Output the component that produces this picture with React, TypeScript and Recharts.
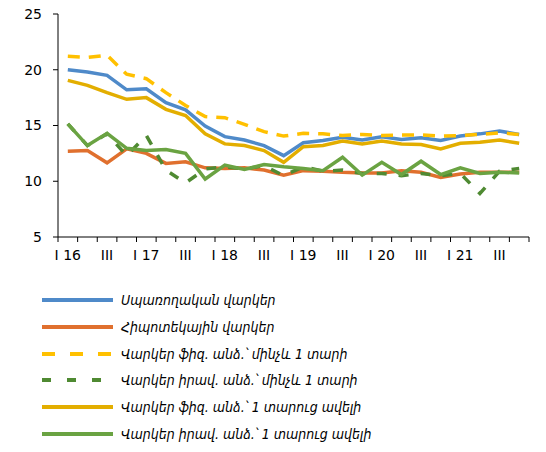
import React from 'react';
import { LineChart, Line, XAxis, YAxis } from 'recharts';

// quarters 2016 Q1 - 2021 Q4
const quarters = [
  'I 16', 'II', 'III', 'IV',
  'I 17', 'II', 'III', 'IV',
  'I 18', 'II', 'III', 'IV',
  'I 19', 'II', 'III', 'IV',
  'I 20', 'II', 'III', 'IV',
  'I 21', 'II', 'III', 'IV'
];

const consumer = [20.0, 19.8, 19.5, 18.2, 18.3, 17.05, 16.4, 14.95, 14.0, 13.7, 13.2, 12.3, 13.45, 13.65, 13.95, 13.7, 14.0, 13.75, 13.9, 13.65, 14.05, 14.25, 14.5, 14.2];
const mortgage = [12.7, 12.75, 11.65, 12.9, 12.5, 11.6, 11.75, 11.2, 11.15, 11.2, 11.0, 10.55, 10.95, 10.9, 10.8, 10.75, 10.75, 10.95, 10.8, 10.35, 10.65, 10.8, 10.8, 10.8];
const indivShort = [21.2, 21.1, 21.3, 19.6, 19.2, 17.95, 16.8, 15.8, 15.7, 15.1, 14.45, 14.05, 14.3, 14.25, 14.1, 14.2, 14.1, 14.15, 14.15, 14.05, 14.1, 14.2, 14.35, 14.2];
const legalShort = [15.15, 13.2, 14.25, 12.3, 14.1, 11.0, 9.85, 11.1, 11.3, 11.1, 11.4, 10.5, 11.3, 10.9, 11.0, 10.7, 10.7, 10.5, 10.7, 10.5, 10.7, 8.9, 10.9, 11.15];
const indivLong = [19.05, 18.6, 17.95, 17.35, 17.5, 16.45, 15.9, 14.25, 13.35, 13.2, 12.75, 11.7, 13.1, 13.2, 13.6, 13.35, 13.6, 13.35, 13.3, 12.9, 13.4, 13.5, 13.7, 13.4];
const legalLong = [15.15, 13.2, 14.3, 12.95, 12.75, 12.85, 12.5, 10.2, 11.45, 11.05, 11.5, 11.3, 11.15, 10.95, 12.15, 10.55, 11.7, 10.6, 11.8, 10.6, 11.2, 10.7, 10.8, 10.75];

const yTicks = [5, 10, 15, 20, 25];
const xTicks = quarters.map((_, i) => i).concat(quarters.length);

const series = [
  { key: 'consumer', name: 'Սպառողական վարկեր', color: '#4F8AC9', dash: undefined, legendDash: undefined, values: consumer },
  { key: 'mortgage', name: 'Հիպոտեկային վարկեր', color: '#E0702E', dash: undefined, legendDash: undefined, values: mortgage },
  { key: 'indivShort', name: 'Վարկեր ֆիզ. անձ.՝ մինչև 1 տարի', color: '#FFC000', dash: '12 9', legendDash: '13 15', values: indivShort },
  { key: 'legalShort', name: 'Վարկեր իրավ. անձ.՝ մինչև 1 տարի', color: '#4F8A32', dash: '10 12', legendDash: '9 16', values: legalShort },
  { key: 'indivLong', name: 'Վարկեր ֆիզ. անձ.՝ 1 տարուց ավելի', color: '#E3AE00', dash: undefined, legendDash: undefined, values: indivLong },
  { key: 'legalLong', name: 'Վարկեր իրավ. անձ.՝ 1 տարուց ավելի', color: '#6AA342', dash: undefined, legendDash: undefined, values: legalLong }
];

const data = quarters.map((q, i) => {
  const row: any = { x: i + 0.5, q };
  series.forEach(s => { row[s.key] = s.values[i]; });
  return row;
});

const W = 546;
const H = 275;
const margin = { top: 14, right: 17, left: 0, bottom: 8 };
const yAxisWidth = 58;
const halfBand = (W - margin.left - margin.right - yAxisWidth) / quarters.length / 2;
const font = '"DejaVu Sans", sans-serif';
const legendFont = '"DejaVu Sans Condensed", "DejaVu Sans", sans-serif';

const XTick = (props: any) => {
  const { x, y, payload } = props;
  const i = payload.value;
  if (i >= quarters.length || i % 2 !== 0) return <g />;
  return (
    <text x={x + halfBand} y={y} dy={16} textAnchor="middle" fontFamily={font} fontSize={14} fill="#000">
      {quarters[i]}
    </text>
  );
};

export default function App() {
  return (
    <div style={{ position: 'absolute', left: 0, top: 0, width: W, height: 452, background: '#fff', fontFamily: font }}>
      <LineChart width={W} height={H} data={data} margin={margin}>
        <XAxis
          dataKey="x"
          type="number"
          domain={[0, quarters.length]}
          ticks={xTicks}
          interval={0}
          tick={<XTick />}
          tickSize={5}
          stroke="#000"
          height={30}
        />
        <YAxis
          domain={[5, 25]}
          ticks={yTicks}
          interval={0}
          width={yAxisWidth}
          tickSize={5}
          tickMargin={11}
          stroke="#000"
          tick={{ fill: '#000', fontSize: 14, fontFamily: font }}
        />
        {series.map(s => (
          <Line
            key={s.key}
            dataKey={s.key}
            name={s.name}
            stroke={s.color}
            strokeWidth={3.5}
            strokeDasharray={s.dash}
            dot={false}
            activeDot={false}
            isAnimationActive={false}
          />
        ))}
      </LineChart>
      <div style={{ position: 'absolute', left: 42, top: 287 }}>
        {series.map(s => (
          <div key={s.key} style={{ display: 'flex', alignItems: 'center', height: 26.7 }}>
            <svg width={71} height={8} style={{ display: 'block' }}>
              <line x1={0} y1={4} x2={71} y2={4} stroke={s.color} strokeWidth={4} strokeDasharray={s.legendDash} />
            </svg>
            <span style={{ marginLeft: 8, fontSize: 14, fontStyle: 'italic', fontFamily: legendFont, color: '#000', whiteSpace: 'nowrap' }}>{s.name}</span>
          </div>
        ))}
      </div>
    </div>
  );
}
